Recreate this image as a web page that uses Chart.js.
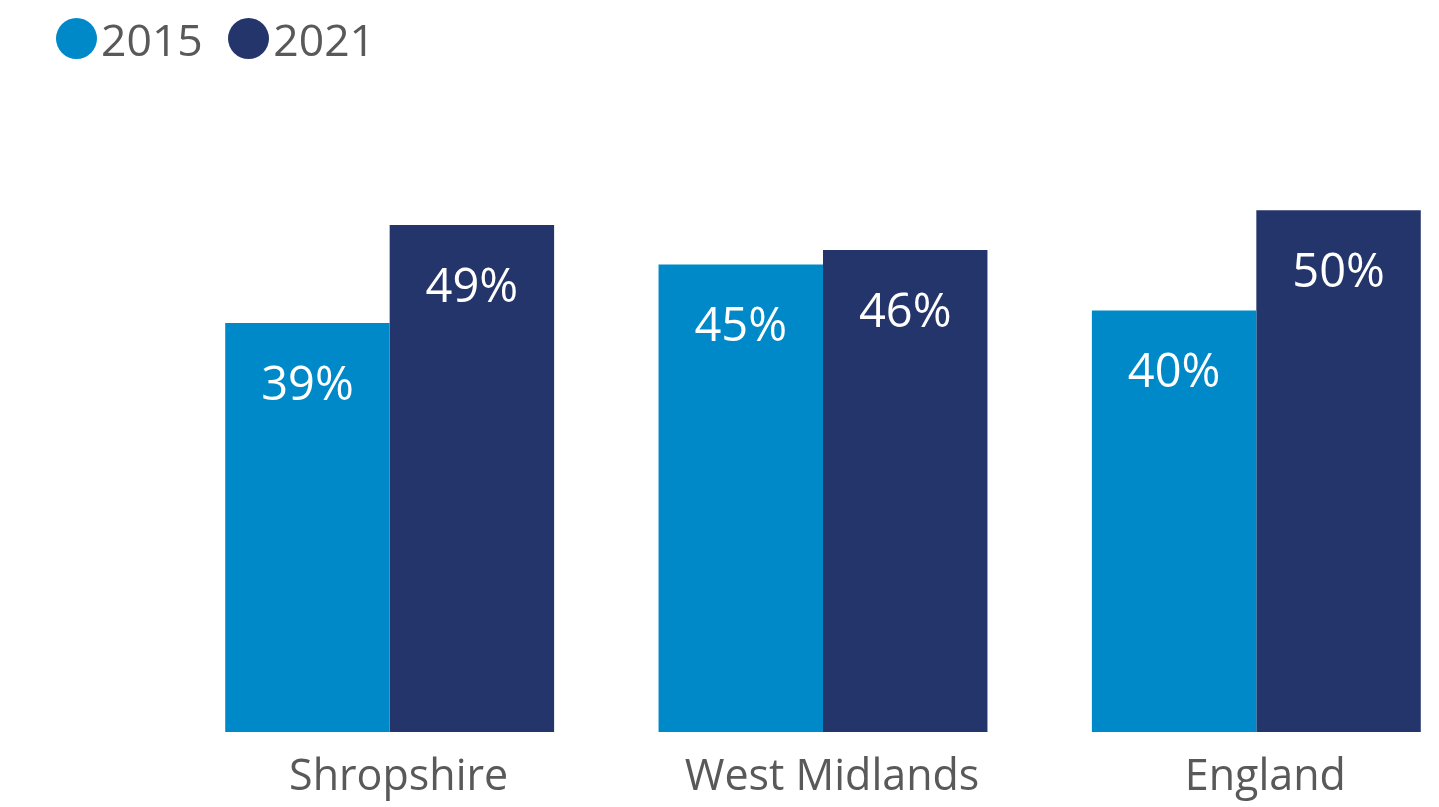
<!DOCTYPE html>
<html>
<head>
<meta charset="utf-8">
<script src="https://cdn.jsdelivr.net/npm/chart.js@4/dist/chart.umd.min.js"></script>
<style>
  html, body { margin: 0; padding: 0; background: #fff; overflow: hidden; }
  body { width: 1439px; height: 807px; position: relative; font-family: "Open Sans", sans-serif; }
  #chartWrap { position: absolute; left: 0; top: 0; width: 1480px; height: 807px; }
  #legend { position: absolute; left: 55.5px; top: 16.5px; display: flex; align-items: center; z-index: 2; }
  .legend-item { display: flex; align-items: center; margin-right: 25px; }
  .legend-dot { width: 41px; height: 41px; border-radius: 50%; display: inline-block; }
  .legend-text { font-size: 44.5px; line-height: 1; color: #595959; margin-left: 4.5px; }
</style>
</head>
<body>
<div id="legend"></div>
<div id="chartWrap"><canvas id="chart"></canvas></div>
<script>
const categories = ["Shropshire", "West Midlands", "England"];
const seriesNames = ["2015", "2021"];
const values2015 = [39.2, 44.8, 40.4];
const values2021 = [48.6, 46.2, 50.0];
const seriesColors = ["#0089C8", "#24356B"];

const TEXT_GREY = "#595959";

// white % labels sitting inside the top of each bar
const barLabels = {
  id: "barLabels",
  afterDatasetsDraw(chart) {
    const { ctx } = chart;
    const size = 47;
    ctx.save();
    ctx.font = `${size}px "Open Sans"`;
    ctx.fillStyle = "#ffffff";
    ctx.textAlign = "center";
    ctx.textBaseline = "alphabetic";
    chart.data.datasets.forEach((ds, i) => {
      chart.getDatasetMeta(i).data.forEach((bar, j) => {
        ctx.fillText(`${Math.round(ds.data[j])}%`, bar.x, bar.y + 60 + size * 0.357);
      });
    });
    ctx.restore();
  },
};

const chart = new Chart(document.getElementById("chart"), {
  type: "bar",
  data: {
    labels: categories,
    datasets: [
      { label: seriesNames[0], data: values2015, backgroundColor: seriesColors[0] },
      { label: seriesNames[1], data: values2021, backgroundColor: seriesColors[1] },
    ],
  },
  options: {
    responsive: true,
    maintainAspectRatio: false,
    animation: false,
    datasets: { bar: { categoryPercentage: 0.759, barPercentage: 1 } },
    layout: { padding: { left: 173, right: 7, top: 106, bottom: 0 } },
    plugins: { legend: { display: false }, tooltip: { enabled: false } },
    scales: {
      x: {
        grid: { display: false, drawTicks: false },
        border: { display: false },
        ticks: {
          color: TEXT_GREY,
          font: { family: "Open Sans", size: 43 },
          padding: 20,
          labelOffset: 9,
          maxRotation: 0,
          autoSkip: false,
        },
        afterFit(scale) {
          scale.height = 75;
        },
      },
      y: { display: false, min: 0, max: 60 },
    },
  },
  plugins: [barLabels],
});

// legend built from the chart's own datasets
document.getElementById("legend").innerHTML = chart.data.datasets
  .map(
    (ds) =>
      `<div class="legend-item"><span class="legend-dot" style="background:${ds.backgroundColor}"></span><span class="legend-text">${ds.label}</span></div>`,
  )
  .join("");
</script>
</body>
</html>
